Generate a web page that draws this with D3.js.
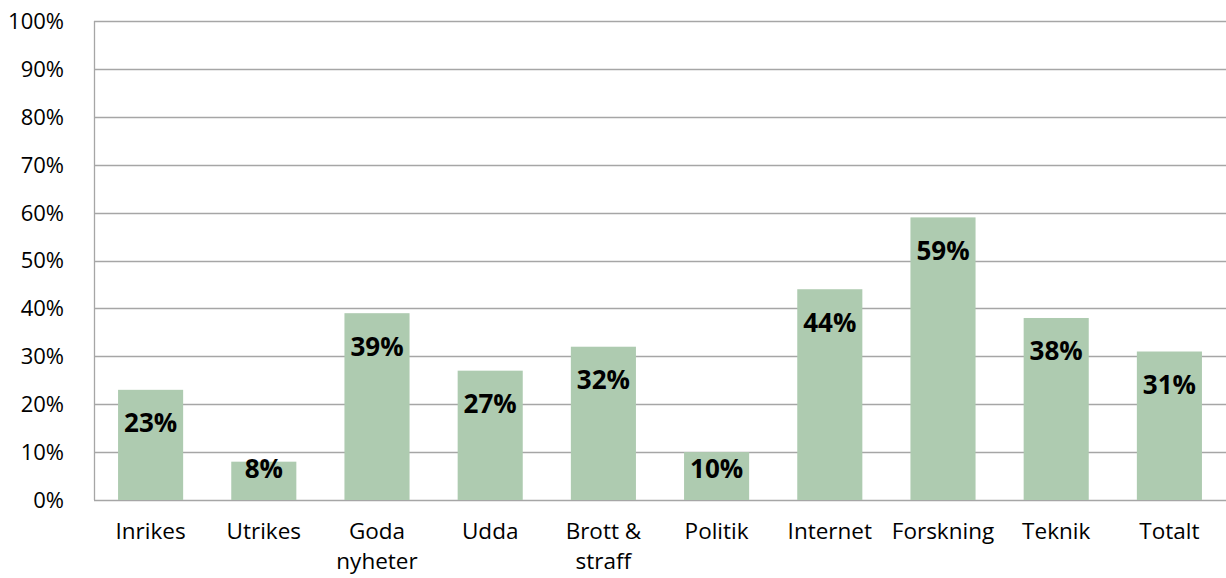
<!DOCTYPE html>
<html lang="sv">
<head>
<meta charset="utf-8">
<title>Andel per kategori</title>
<script src="https://d3js.org/d3.v7.min.js"></script>
<style>
  body { margin: 0; background: #fff; }
  text { font-family: "Open Sans", "Noto Sans", sans-serif; fill: #000; }
</style>
</head>
<body>
<script>
// data
var categories = ["Inrikes", "Utrikes", "Goda nyheter", "Udda", "Brott & straff", "Politik", "Internet", "Forskning", "Teknik", "Totalt"];
var shares = [23, 8, 39, 27, 32, 10, 44, 59, 38, 31];
var yTicks = [0, 10, 20, 30, 40, 50, 60, 70, 80, 90, 100];
// how each category label breaks onto lines
var labelLines = [["Inrikes"], ["Utrikes"], ["Goda", "nyheter"], ["Udda"], ["Brott &", "straff"], ["Politik"], ["Internet"], ["Forskning"], ["Teknik"], ["Totalt"]];

var width = 1226, height = 578;
var margin = {top: 21, right: 0, bottom: 78, left: 94};

var svg = d3.select("body").append("svg")
  .attr("width", width)
  .attr("height", height);

var x = d3.scaleBand()
  .domain(categories)
  .range([margin.left, width - margin.right])
  .paddingInner(0.425)
  .paddingOuter(0.2125);

var y = d3.scaleLinear()
  .domain([0, 100])
  .range([height - margin.bottom, margin.top]);

// gridlines
svg.append("g")
  .selectAll("line")
  .data(yTicks)
  .enter().append("line")
    .attr("x1", margin.left)
    .attr("x2", width - margin.right)
    .attr("y1", function(d) { return Math.round(y(d)) + 0.5; })
    .attr("y2", function(d) { return Math.round(y(d)) + 0.5; })
    .attr("stroke", "#a6a6a6")
    .attr("stroke-width", 1.3);

// y axis line
svg.append("line")
  .attr("x1", margin.left + 0.5).attr("x2", margin.left + 0.5)
  .attr("y1", y(100)).attr("y2", y(0))
  .attr("stroke", "#a6a6a6")
  .attr("stroke-width", 1.3);

// y tick labels
svg.append("g")
  .selectAll("text")
  .data(yTicks)
  .enter().append("text")
    .attr("x", 64)
    .attr("y", function(d) { return y(d); })
    .attr("dy", "0.36em")
    .attr("text-anchor", "end")
    .style("font-size", "22px")
    .text(function(d) { return d + "%"; });

// bars
svg.append("g")
  .selectAll("rect")
  .data(shares)
  .enter().append("rect")
    .attr("x", function(d, i) { return x(categories[i]); })
    .attr("y", function(d) { return y(d); })
    .attr("width", x.bandwidth())
    .attr("height", function(d) { return y(0) - y(d); })
    .attr("fill", "#aecbb0");

// value labels, inside the top of the bar
svg.append("g")
  .selectAll("text")
  .data(shares)
  .enter().append("text")
    .attr("x", function(d, i) { return x(categories[i]) + x.bandwidth() / 2; })
    .attr("y", function(d) { return Math.min(y(d) + 33, y(0) - 31); })
    .attr("dy", "0.36em")
    .attr("text-anchor", "middle")
    .style("font-size", "26px")
    .style("font-weight", "bold")
    .text(function(d) { return d + "%"; });

// category labels
var cat = svg.append("g")
  .selectAll("text")
  .data(labelLines)
  .enter().append("text")
    .attr("x", function(d, i) { return x(categories[i]) + x.bandwidth() / 2; })
    .attr("y", 531)
    .attr("text-anchor", "middle")
    .style("font-size", "22.5px");

cat.selectAll("tspan")
  .data(function(d) { return d; })
  .enter().append("tspan")
    .attr("x", function() { return d3.select(this.parentNode).attr("x"); })
    .attr("dy", function(d, i) { return i === 0 ? "0.36em" : "30px"; })
    .text(function(d) { return d; });
</script>
</body>
</html>
